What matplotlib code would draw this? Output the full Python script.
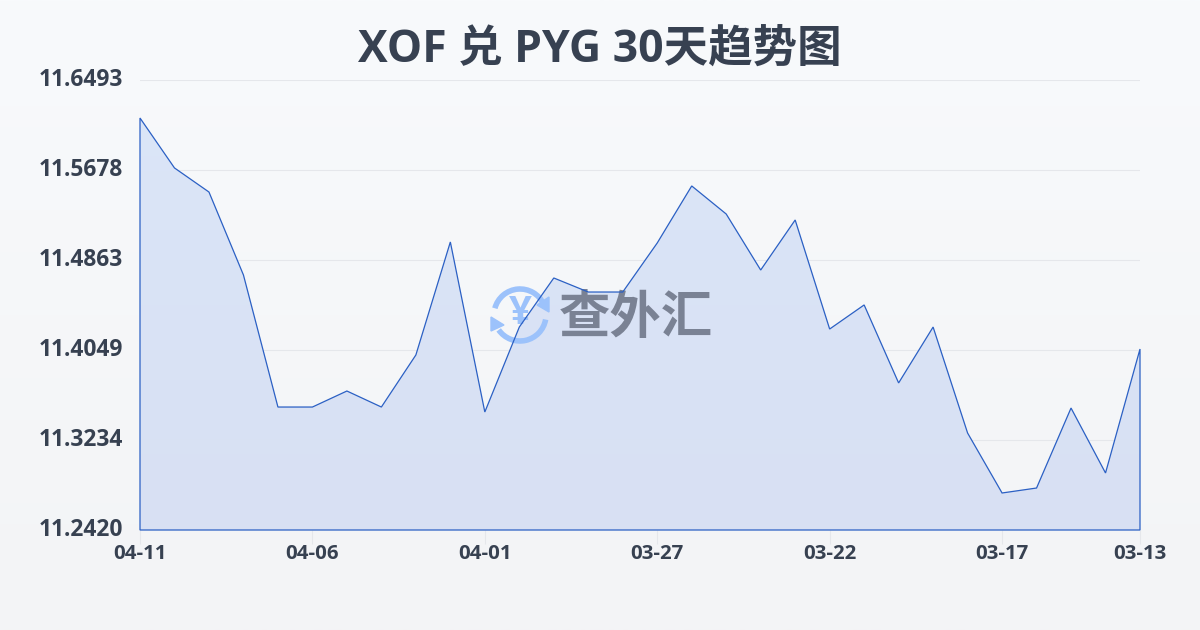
import matplotlib
matplotlib.use('Agg')
import matplotlib.pyplot as plt
from matplotlib.colors import LinearSegmentedColormap
from matplotlib.patches import Arc, Polygon
import numpy as np

plt.rcParams['font.family'] = ['Open Sans', 'Noto Sans CJK SC', 'DejaVu Sans']

dates = ['04-11', '04-10', '04-09', '04-08', '04-07', '04-06', '04-05', '04-04', '04-03', '04-02',
         '04-01', '03-31', '03-30', '03-29', '03-28', '03-27', '03-26', '03-25', '03-24', '03-23',
         '03-22', '03-21', '03-20', '03-19', '03-18', '03-17', '03-16', '03-15', '03-14', '03-13']
rates = [11.6149, 11.5697, 11.5479, 11.4728, 11.3533, 11.3533, 11.3678, 11.3533, 11.4004, 11.5027,
         11.3488, 11.4257, 11.4701, 11.4574, 11.4574, 11.5018, 11.5534, 11.5280, 11.4773, 11.5226,
         11.4239, 11.4457, 11.3751, 11.4257, 11.3298, 11.2755, 11.2800, 11.3524, 11.2936, 11.4058]
y_ticks = [11.2420, 11.3234, 11.4049, 11.4863, 11.5678, 11.6493]
x_ticks = [0, 5, 10, 15, 20, 25, 29]

fig = plt.figure(figsize=(12, 6.3), dpi=100)

# page background
bg = fig.add_axes([0, 0, 1, 1], zorder=0)
bg_cmap = LinearSegmentedColormap.from_list('bg', ['#f8fafc', '#f3f4f6'])
bg.imshow(np.linspace(0, 1, 256).reshape(-1, 1), cmap=bg_cmap, aspect='auto', extent=[0, 1200, 630, 0])
bg.set_xlim(0, 1200)
bg.set_ylim(630, 0)
bg.axis('off')

rect = [140 / 1200, 100 / 630, 1000 / 1200, 450 / 630]
ax = fig.add_axes(rect, zorder=1)
ax.patch.set_alpha(0)
x = np.arange(len(dates))
outline = list(zip(x, rates)) + [(x[-1], y_ticks[0]), (x[0], y_ticks[0])]

ax.grid(axis='y', color='#e5e7eb', linewidth=0.8)
ax.set_axisbelow(True)

# area with gradient, clipped to the curve
fill_cmap = LinearSegmentedColormap.from_list('fill', ['#dbe6f8', '#d8e0f3'])
img = ax.imshow(np.linspace(0, 1, 256).reshape(-1, 1), cmap=fill_cmap, aspect='auto',
                extent=[x[0], x[-1], y_ticks[0], y_ticks[-1]], zorder=1.5)
img.set_clip_path(Polygon(outline, closed=True, transform=ax.transData))
ax.set_xlim(0, len(dates) - 1)
ax.set_ylim(y_ticks[0], y_ticks[-1])

ax.set_xticks(x_ticks)
ax.set_xticklabels([dates[i] for i in x_ticks], fontsize=14.7, fontweight='bold', color='#374151')
ax.set_yticks(y_ticks)
ax.set_yticklabels(['%.4f' % v for v in y_ticks], fontsize=16.4, fontweight='bold', color='#374151', va='center')
ax.tick_params(axis='x', length=10, width=0.8, color='#e5e7eb', pad=0)
ax.tick_params(axis='y', length=0, pad=12)
for s in ax.spines.values():
    s.set_visible(False)

fig.text(0.5, 1 - 50 / 630, 'XOF 兑 PYG 30天趋势图', fontsize=32, fontweight='bold', color='#374151',
         ha='center', va='center')

# watermark sits over the fill but under the line
wm = fig.add_axes([0, 0, 1, 1], zorder=2)
wm.set_xlim(0, 1200)
wm.set_ylim(630, 0)
wm.axis('off')
wm.patch.set_alpha(0)
logo = '#9cc2fb'
wm.add_patch(Arc((520, 315), 52, 52, theta1=10, theta2=145, color=logo, lw=4))
wm.add_patch(Arc((520, 315), 52, 52, theta1=195, theta2=335, color=logo, lw=4))
wm.text(520, 314, '¥', fontsize=29, fontweight='bold', color=logo, ha='center', va='center')
wm.add_patch(Polygon([(549, 297), (549, 312), (537, 305)], closed=True, color=logo))
wm.add_patch(Polygon([(491, 331), (491, 317), (504, 325)], closed=True, color=logo))
wm.text(636, 320, '查外汇', fontsize=37, fontweight='bold', color='#7a8294', ha='center', va='center')

# closed outline on its own layer
top = fig.add_axes(rect, zorder=3)
top.patch.set_alpha(0)
top.axis('off')
top.set_xlim(0, len(dates) - 1)
top.set_ylim(y_ticks[0], y_ticks[-1])
top.add_patch(Polygon(outline, closed=True, facecolor='none', edgecolor='#2b60c4', linewidth=0.9, clip_on=False))

fig.savefig('out.png', dpi=100)
